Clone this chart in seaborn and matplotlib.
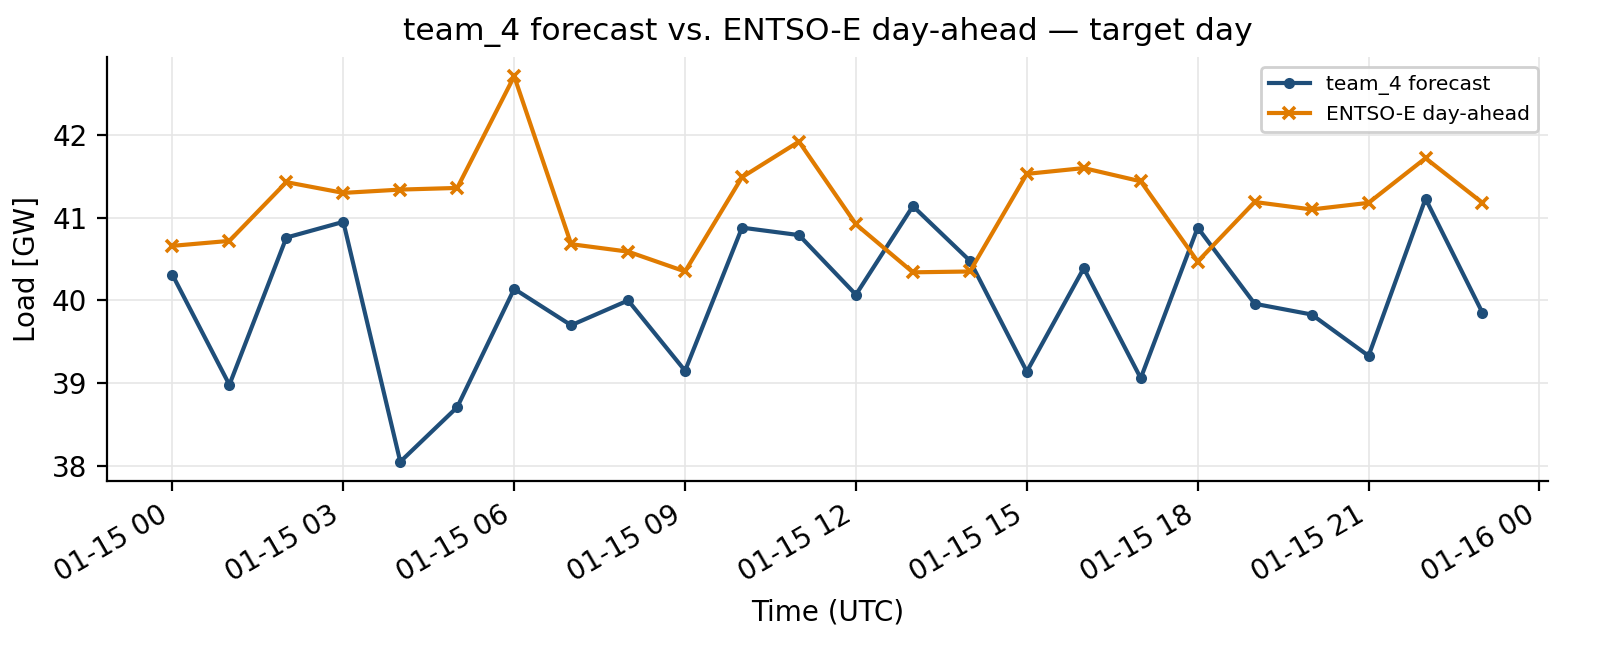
import pandas as pd
import seaborn as sns
import matplotlib.pyplot as plt
import matplotlib.dates as mdates

hours = pd.date_range("2024-01-15 00:00", periods=24, freq="h")
team_4 = [40.31, 38.98, 40.76, 40.95, 38.05, 38.71, 40.14, 39.70, 40.00, 39.15,
          40.88, 40.79, 40.07, 41.14, 40.48, 39.14, 40.39, 39.06, 40.88, 39.96,
          39.83, 39.33, 41.23, 39.85]
entsoe = [40.66, 40.72, 41.43, 41.30, 41.34, 41.36, 42.71, 40.68, 40.59, 40.35,
          41.49, 41.92, 40.92, 40.34, 40.35, 41.53, 41.60, 41.44, 40.47, 41.19,
          41.10, 41.18, 41.72, 41.18]

plt.rcParams['font.family'] = ['DejaVu Sans']

fig, ax = plt.subplots(figsize=(8.065, 3.275), dpi=200)
sns.lineplot(x=hours, y=team_4, ax=ax, color="#1f4e79", marker="o", markersize=4,
             markeredgewidth=0, linewidth=1.5, label="team_4 forecast")
sns.lineplot(x=hours, y=entsoe, ax=ax, color="#e07b00", marker="x", markersize=4.5,
             markeredgewidth=1.3, markeredgecolor="#e07b00", linewidth=1.5,
             label="ENTSO-E day-ahead")

ax.xaxis.set_major_locator(mdates.HourLocator(byhour=range(0, 24, 3)))
ax.xaxis.set_major_formatter(mdates.DateFormatter("%m-%d %H"))
ax.set_yticks([38, 39, 40, 41, 42])
ax.grid(True, color="#e6e6e6", linewidth=0.6)
ax.set_axisbelow(True)
sns.despine(ax=ax)
ax.set_title("team_4 forecast vs. ENTSO-E day-ahead — target day", fontsize=11.3)
ax.set_xlabel("Time (UTC)")
ax.set_ylabel("Load [GW]")
ax.legend(loc="upper right", fontsize=7.3, framealpha=0.9)
fig.autofmt_xdate()
fig.subplots_adjust(left=0.0663, right=0.9597, top=0.913, bottom=0.2656)
fig.savefig("out.png", dpi=200)
